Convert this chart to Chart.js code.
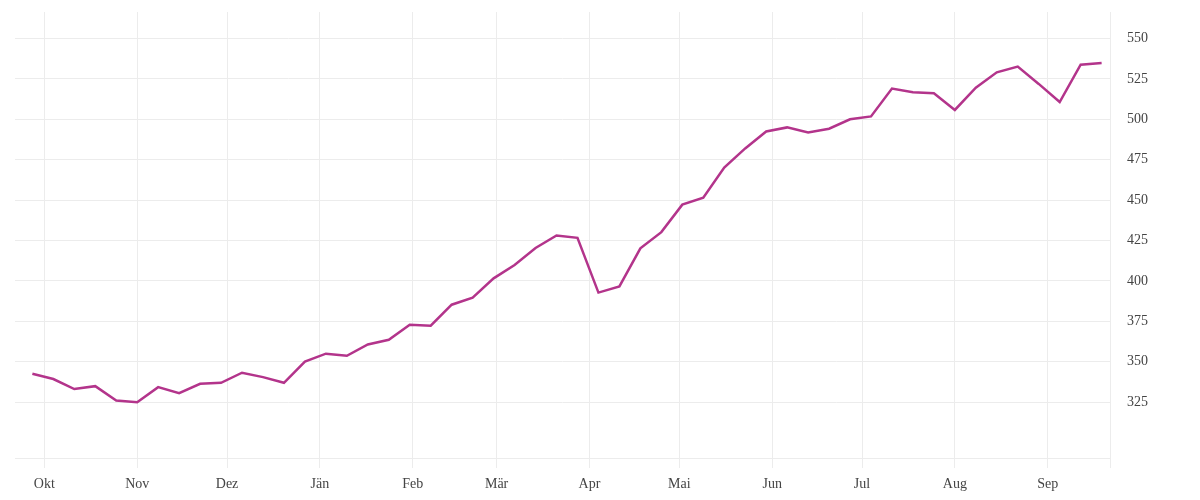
<!DOCTYPE html>
<html>
<head>
<meta charset="utf-8">
<script src="https://cdn.jsdelivr.net/npm/chart.js@4/dist/chart.umd.min.js"></script>
<style>
  html, body { margin: 0; padding: 0; background: #fff; }
  #wrap { width: 1200px; height: 500px; }
</style>
</head>
<body>
<div id="wrap"><canvas id="chart"></canvas></div>
<script>
// weekly dates
const weeks = [
    '2021-09-27', '2021-10-04', '2021-10-11', '2021-10-18', '2021-10-25',
    '2021-11-01', '2021-11-08', '2021-11-15', '2021-11-22', '2021-11-29',
    '2021-12-06', '2021-12-13', '2021-12-20', '2021-12-27',
    '2022-01-03', '2022-01-10', '2022-01-17', '2022-01-24', '2022-01-31',
    '2022-02-07', '2022-02-14', '2022-02-21', '2022-02-28',
    '2022-03-07', '2022-03-14', '2022-03-21', '2022-03-28',
    '2022-04-04', '2022-04-11', '2022-04-18', '2022-04-25',
    '2022-05-02', '2022-05-09', '2022-05-16', '2022-05-23', '2022-05-30',
    '2022-06-06', '2022-06-13', '2022-06-20', '2022-06-27',
    '2022-07-04', '2022-07-11', '2022-07-18', '2022-07-25',
    '2022-08-01', '2022-08-08', '2022-08-15', '2022-08-22', '2022-08-29',
    '2022-09-05', '2022-09-12', '2022-09-19'
];

const values = [
    342.6, 339.3, 333.1, 334.9, 326.0, 325.0, 334.3, 330.6, 336.4, 337.0,
    343.2, 340.5, 337.0, 350.1, 355.0, 353.7, 360.7, 363.6, 372.9, 372.3,
    385.3, 389.7, 401.6, 409.9, 420.4, 428.1, 426.7, 392.8, 396.6, 420.2,
    430.2, 447.2, 451.5, 470.2, 482.0, 492.5, 495.0, 491.9, 494.2, 500.0,
    501.8, 519.0, 516.8, 516.1, 505.8, 519.6, 529.1, 532.6, 521.9, 510.7,
    533.8, 534.8
];

// month tick positions (first of month) and labels
const monthStarts = [
    '2021-10-01', '2021-11-01', '2021-12-01', '2022-01-01', '2022-02-01', '2022-03-01',
    '2022-04-01', '2022-05-01', '2022-06-01', '2022-07-01', '2022-08-01', '2022-09-01'
];
const monthLabels = ['Okt', 'Nov', 'Dez', 'Jän', 'Feb', 'Mär', 'Apr', 'Mai', 'Jun', 'Jul', 'Aug', 'Sep'];

const yTicks = [325, 350, 375, 400, 425, 450, 475, 500, 525, 550];

const origin = Date.parse('2021-10-01');
const toDay = d => (Date.parse(d) - origin) / 86400000;

const xMin = -9.8;
const xMax = 355.8;

const gridColor = '#ececec';
const textColor = '#444';
const font = { family: '"Liberation Serif", "DejaVu Serif", serif', size: 14 };

new Chart(document.getElementById('chart'), {
    type: 'line',
    data: {
        datasets: [{
            data: weeks.map((w, i) => ({ x: toDay(w), y: values[i] })),
            borderColor: '#b3348b',
            borderWidth: 2.5,
            pointRadius: 0,
            tension: 0,
            fill: false
        }]
    },
    options: {
        responsive: true,
        maintainAspectRatio: false,
        animation: false,
        layout: { padding: { left: 15, top: 12, right: 0, bottom: 0 } },
        plugins: {
            legend: { display: false },
            tooltip: { enabled: false }
        },
        scales: {
            x: {
                type: 'linear',
                min: xMin,
                max: xMax,
                afterBuildTicks: scale => {
                    scale.ticks = monthStarts.map(d => ({ value: toDay(d) }))
                        .concat([{ value: xMax }]);
                },
                afterFit: scale => {
                    scale.height = 42;
                    scale.paddingLeft = 0;
                    scale.paddingRight = 0;
                },
                ticks: {
                    color: textColor,
                    font: font,
                    padding: 8,
                    maxRotation: 0,
                    autoSkip: false,
                    callback: function(value) {
                        const idx = monthStarts.findIndex(d => Math.abs(toDay(d) - value) < 0.01);
                        return idx >= 0 ? monthLabels[idx] : '';
                    }
                },
                grid: {
                    color: gridColor,
                    lineWidth: 1,
                    drawTicks: true,
                    tickLength: 10
                },
                border: { display: true, color: gridColor, width: 1 }
            },
            y: {
                position: 'right',
                min: 290.45,
                max: 566.4,
                afterBuildTicks: scale => {
                    scale.ticks = yTicks.map(v => ({ value: v }));
                },
                afterFit: scale => {
                    scale.width = 90;
                    scale.paddingTop = 0;
                    scale.paddingBottom = 0;
                },
                ticks: {
                    color: textColor,
                    font: font,
                    padding: 17
                },
                grid: {
                    color: gridColor,
                    lineWidth: 1,
                    drawTicks: false
                },
                border: { display: false }
            }
        }
    }
});
</script>
</body>
</html>
